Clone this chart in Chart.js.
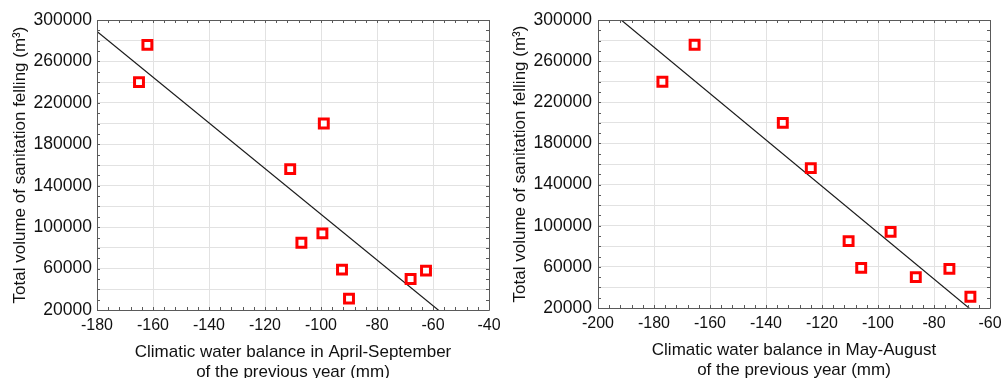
<!DOCTYPE html>
<html><head><meta charset="utf-8">
<script src="https://cdn.jsdelivr.net/npm/chart.js@4.4.1/dist/chart.umd.min.js"></script>
<style>
html,body{margin:0;padding:0;background:#fff;overflow:hidden;}
#wrap{position:relative;width:1001px;height:378px;}
canvas{position:absolute;top:0;}
#c1{left:0;} #c2{left:500px;}
</style></head><body>
<div id="wrap"><canvas id="c1" width="500" height="378"></canvas><canvas id="c2" width="501" height="378"></canvas></div>
<script>
// ---- data ----
const sanitationFelling = [276000, 240000, 200000, 156000, 85000, 94000, 59000, 31000, 50000, 58000];
const balanceAprSep = [-162, -165, -99, -111, -107, -99.5, -92.5, -90, -68, -62.5];
const balanceMayAug = [-165.5, -177, -134, -124, -110.5, -95.5, -106, -67, -86.5, -74.5];
const xRangeLeft = [-180, -40];
const xRangeRight = [-200, -60];
const yRange = [20000, 300000];
const yTitle = 'Total volume of sanitation felling (m\u00B3)';
const xTitleLeft = ['Climatic water balance in April-September', 'of the previous year (mm)'];
const xTitleRight = ['Climatic water balance in May-August', 'of the previous year (mm)'];

const FONT = "'Liberation Sans', Arial, sans-serif";

function linFit(xs, ys) {
  const n = xs.length;
  const mx = xs.reduce((a, b) => a + b, 0) / n;
  const my = ys.reduce((a, b) => a + b, 0) / n;
  let sxy = 0, sxx = 0;
  for (let i = 0; i < n; i++) { sxy += (xs[i] - mx) * (ys[i] - my); sxx += (xs[i] - mx) ** 2; }
  const b = sxy / sxx;
  return { a: my - b * mx, b };
}

const framePlugin = {
  id: 'frame',
  afterDraw(chart, args, opts) {
    const { ctx, chartArea: ca, scales } = chart;
    const xs = scales.x, ys = scales.y;
    ctx.save();
    ctx.strokeStyle = '#5a5a5a';
    ctx.lineWidth = 1;
    ctx.beginPath();
    ctx.rect(Math.round(ca.left) + 0.5, Math.round(ca.top) + 0.5, Math.round(ca.right - ca.left), Math.round(ca.bottom - ca.top));
    ctx.stroke();
    ctx.beginPath();
    const L = 3;
    for (let v = xs.min; v <= xs.max + 1e-9; v += opts.xMinor) {
      const p = Math.round(xs.getPixelForValue(v)) + 0.5;
      ctx.moveTo(p, ca.top); ctx.lineTo(p, ca.top + L);
      ctx.moveTo(p, ca.bottom); ctx.lineTo(p, ca.bottom - L);
    }
    for (let v = ys.min; v <= ys.max + 1e-9; v += opts.yMinor) {
      const p = Math.round(ys.getPixelForValue(v)) + 0.5;
      ctx.moveTo(ca.left, p); ctx.lineTo(ca.left + L, p);
      ctx.moveTo(ca.right, p); ctx.lineTo(ca.right - L, p);
    }
    ctx.stroke();
    ctx.restore();
  }
};

function makeChart(id, xs, xRange, xTitle, dims) {
  const fit = linFit(xs, sanitationFelling);
  const pts = xs.map((x, i) => ({ x, y: sanitationFelling[i] }));
  const line = xRange.map(x => ({ x, y: fit.a + fit.b * x }));
  return new Chart(document.getElementById(id), {
    type: 'scatter',
    data: {
      datasets: [
        {
          data: pts,
          pointStyle: 'rect',
          radius: 6.3,
          hoverRadius: 6.3,
          borderWidth: 3,
          borderColor: '#ff0000',
          backgroundColor: '#ffffff'
        },
        {
          type: 'line',
          data: line,
          borderColor: '#1a1a1a',
          borderWidth: 1.2,
          pointRadius: 0,
          fill: false,
          tension: 0
        }
      ]
    },
    options: {
      responsive: false,
      animation: false,
      events: [],
      layout: { padding: { top: 20, right: 11, left: 0, bottom: 0 } },
      plugins: {
        legend: { display: false },
        tooltip: { enabled: false },
        frame: { xMinor: 4, yMinor: 10000 }
      },
      scales: {
        x: {
          type: 'linear',
          min: xRange[0], max: xRange[1],
          border: { display: false },
          grid: { color: '#e2e2e2', lineWidth: 1, drawTicks: false },
          ticks: {
            stepSize: 20, padding: 6, color: '#111',
            font: { family: FONT, size: 16 },
            callback: v => String(v),
            maxRotation: 0, autoSkip: false
          },
          title: {
            display: true, text: xTitle, color: '#111',
            font: { family: FONT, size: 17, lineHeight: 1.18 },
            padding: { top: 0, bottom: dims.titleBottom }
          },
          afterFit(s) { s.height = dims.xHeight; s.paddingLeft = 0; s.paddingRight = 0; }
        },
        y: {
          type: 'linear',
          min: yRange[0], max: yRange[1],
          border: { display: false },
          grid: { color: '#e2e2e2', lineWidth: 1, drawTicks: false },
          ticks: {
            stepSize: 20000, padding: dims.yPad, color: '#111',
            font: { family: FONT, size: 17.5 },
            autoSkip: false,
            callback: v => ((v - yRange[0]) % 40000 === 0 ? String(v) : '')
          },
          title: {
            display: true, text: yTitle, color: '#111',
            font: { family: FONT, size: 17, lineHeight: 1.18 },
            padding: { top: 10, bottom: 0 }
          },
          afterFit(s) { s.width = dims.yWidth; s.paddingTop = 0; s.paddingBottom = 0; }
        }
      }
    },
    plugins: [framePlugin]
  });
}

makeChart('c1', balanceAprSep, xRangeLeft, xTitleLeft, { yWidth: 97, xHeight: 68, yPad: 5, titleBottom: -4 });
makeChart('c2', balanceMayAug, xRangeRight, xTitleRight, { yWidth: 98, xHeight: 70, yPad: 6, titleBottom: -2 });
</script>
</body></html>
